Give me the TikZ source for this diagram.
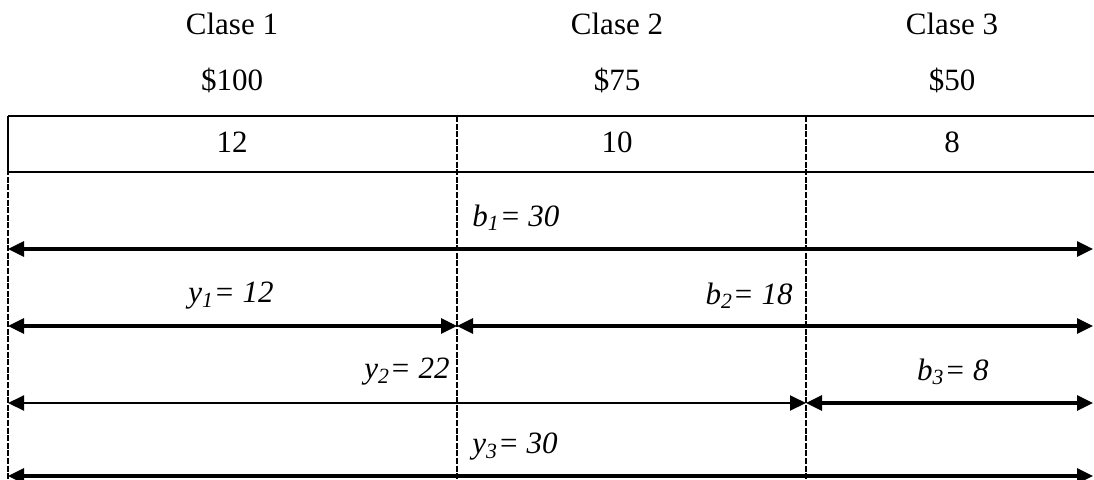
\documentclass[tikz,border=0pt]{standalone}
\usepackage{fontspec}
\setmainfont{Liberation Serif}
\usetikzlibrary{arrows.meta}

\begin{document}
\begin{tikzpicture}[x=0.5pt, y=-0.5pt, font=\fontsize{15.5}{18}\selectfont,
  >={Triangle[length=8pt,width=7.5pt]},
  rule/.style={line width=1.1pt},
  sep/.style={line width=1.1pt, dash pattern=on 3pt off 0.8pt},
  dim/.style={<->, line width=1.6pt},
  lab/.style={font=\fontsize{15.5}{18}\selectfont\itshape, inner sep=0pt}]
  \useasboundingbox (0,0) rectangle (1094,479);

  % column heads
  \node (c1) at (232,24) {Clase 1};
  \node (c2) at (617,24) {Clase 2};
  \node (c3) at (952,24) {Clase 3};
  \node (p1) at (232,80) {\$100};
  \node (p2) at (617,80) {\$75};
  \node (p3) at (952,80) {\$50};

  % table row
  \coordinate (tl) at (8,116);
  \coordinate (tr) at (1094,116);
  \coordinate (bl) at (8,172);
  \coordinate (br) at (1094,172);
  \draw[rule] (tl) -- (tr);
  \draw[rule] (bl) -- (br);
  \draw[rule] (tl) -- (bl);
  \node (d1) at (232,142) {12};
  \node (d2) at (617,142) {10};
  \node (d3) at (952,142) {8};

  % column separators
  \foreach \i/\x in {0/8,1/457,2/806} {
    \coordinate (s\i) at (\x,116);
    \coordinate (e\i) at (\x,479);
    \draw[sep] (s\i) -- (e\i);
  }

  % arrow end points
  \foreach \r/\y in {1/249,2/326,3/403,4/476} {
    \coordinate (r\r-0) at (8,\y);
    \coordinate (r\r-1) at (457,\y);
    \coordinate (r\r-2) at (806,\y);
    \coordinate (r\r-3) at (1093,\y);
  }
  \draw[dim] (r1-0) -- (r1-3);
  \draw[dim] (r2-0) -- (r2-1);
  \draw[dim] (r2-1) -- (r2-3);
  \draw[dim, line width=1pt] (r3-0) -- (r3-2);
  \draw[dim] (r3-2) -- (r3-3);
  \draw[dim] (r4-0) -- (r4-3);

  % labels
  \node[lab, anchor=west] (b1) at (472,218) {b\textsubscript{1}= 30};
  \node[lab] (y1) at (231,296) {y\textsubscript{1}= 12};
  \node[lab, anchor=east] (b2) at (793,296) {b\textsubscript{2}= 18};
  \node[lab, anchor=east] (y2) at (450,372) {y\textsubscript{2}= 22};
  \node[lab] (b3) at (953,372) {b\textsubscript{3}= 8};
  \node[lab, anchor=west] (y3) at (472,447) {y\textsubscript{3}= 30};
\end{tikzpicture}
\end{document}
